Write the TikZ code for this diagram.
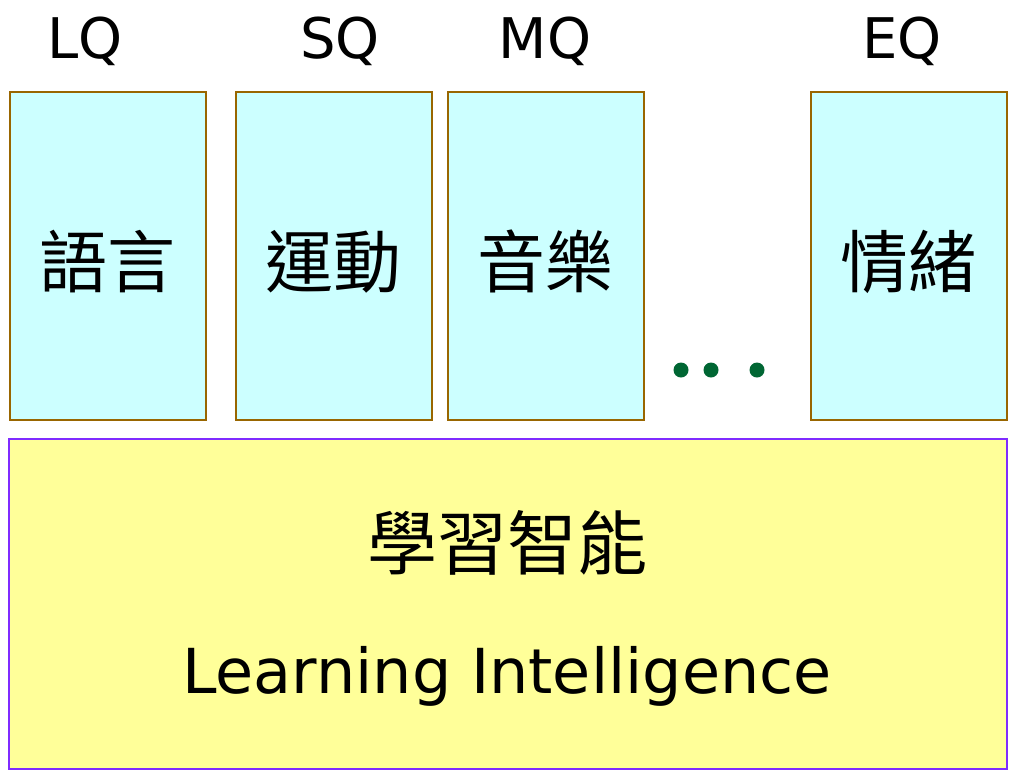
\documentclass[tikz,border=0pt]{standalone}
\usepackage{fontspec}
\setmainfont{DejaVu Sans}
\newfontfamily\cjk{Noto Sans CJK TC}
\definecolor{qfill}{HTML}{CCFFFF}
\definecolor{qline}{HTML}{996600}
\definecolor{lfill}{HTML}{FFFF99}
\definecolor{lline}{HTML}{7F2BFF}
\definecolor{dotgreen}{HTML}{006633}

\newcommand{\lowered}[1]{\raisebox{-6pt}[\height][\depth]{#1}}

\tikzset{
  qbox/.style={draw=qline, fill=qfill, line width=1.5pt, anchor=north west,
    minimum width=196pt, minimum height=328pt, inner sep=0pt,
    font=\cjk\fontsize{68}{68}\selectfont},
  qlabel/.style={font=\fontsize{56}{56}\selectfont, inner sep=0pt},
  basebox/.style={draw=lline, fill=lfill, line width=1.5pt, anchor=north west,
    minimum width=998pt, minimum height=330pt, inner sep=0pt},
}

\begin{document}
\begin{tikzpicture}[x=1pt, y=-1pt]
\useasboundingbox (0,0) rectangle (1009,772);
% the intelligences
\node[qbox] (lq) at (9,91) {\lowered{語言}};
\node[qbox] (sq) at (235,91) {\lowered{運動}};
\node[qbox] (mq) at (447,91) {\lowered{音樂}};
\node[qbox] (eq) at (810,91) {\lowered{情緒}};
% their names
\node[qlabel] (lqname) at (85,41) {LQ};
\node[qlabel] (sqname) at (340,41) {SQ};
\node[qlabel] (mqname) at (545,41) {MQ};
\node[qlabel] (eqname) at (902,41) {EQ};
% dots
\foreach \x in {681,711,757}
  \fill[dotgreen] (\x,370) circle (7.5pt);
% learning intelligence
\node[basebox] (base) at (8,438) {};
\node[font=\cjk\fontsize{70}{70}\selectfont] (lilabel) at (507,543) {學習智能};
\node[font=\fontsize{62}{62}\selectfont] (liname) at (507,676) {Learning Intelligence};
\end{tikzpicture}
\end{document}
